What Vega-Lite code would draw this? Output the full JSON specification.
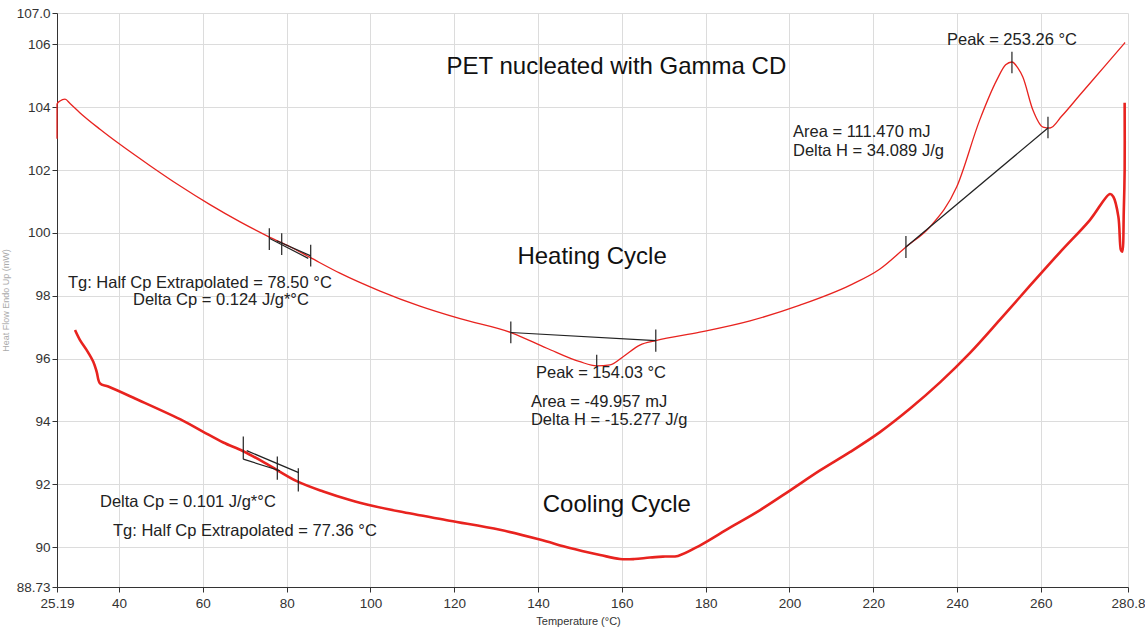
{
  "$schema": "https://vega.github.io/schema/vega-lite/v6.json",
  "width": 1071,
  "height": 574,
  "autosize": "none",
  "padding": {"left": 57, "top": 13, "right": 17, "bottom": 44},
  "background": "white",
  "config": {
    "font": "Liberation Sans",
    "view": {"stroke": null},
    "axis": {"labelFont": "Liberation Sans", "titleFont": "Liberation Sans", "labelColor": "#333", "titleColor": "#333", "labelFontSize": 13.5, "titleFontWeight": "normal", "gridColor": "#dcdcdc", "gridWidth": 1, "domainColor": "#333", "tickColor": "#333", "tickSize": 5}
  },
  "datasets": {
    "heat": [
      {"i": 0, "t": 25.19, "hf": 103.0}, {"i": 1, "t": 25.19, "hf": 104.1}, {"i": 2, "t": 25.9, "hf": 104.2},
      {"i": 3, "t": 27.1, "hf": 104.26}, {"i": 4, "t": 28.3, "hf": 104.12}, {"i": 5, "t": 30.7, "hf": 103.82},
      {"i": 6, "t": 35.45, "hf": 103.3}, {"i": 7, "t": 40.2, "hf": 102.82}, {"i": 8, "t": 47.4, "hf": 102.14},
      {"i": 9, "t": 54.5, "hf": 101.5}, {"i": 10, "t": 61.7, "hf": 100.9}, {"i": 11, "t": 68.9, "hf": 100.35},
      {"i": 12, "t": 76.0, "hf": 99.86}, {"i": 13, "t": 80.8, "hf": 99.56}, {"i": 14, "t": 85.6, "hf": 99.22},
      {"i": 15, "t": 92.7, "hf": 98.72}, {"i": 16, "t": 102.3, "hf": 98.15}, {"i": 17, "t": 111.8, "hf": 97.67},
      {"i": 18, "t": 121.4, "hf": 97.27}, {"i": 19, "t": 133.5, "hf": 96.83}, {"i": 20, "t": 142.1, "hf": 96.33},
      {"i": 21, "t": 150.0, "hf": 95.9}, {"i": 22, "t": 154.0, "hf": 95.77}, {"i": 23, "t": 157.2, "hf": 95.8},
      {"i": 24, "t": 160.3, "hf": 96.06}, {"i": 25, "t": 164.3, "hf": 96.43}, {"i": 26, "t": 168.1, "hf": 96.57},
      {"i": 27, "t": 178.6, "hf": 96.84}, {"i": 28, "t": 190.6, "hf": 97.2}, {"i": 29, "t": 202.5, "hf": 97.7},
      {"i": 30, "t": 214.4, "hf": 98.33}, {"i": 31, "t": 221.6, "hf": 98.85}, {"i": 32, "t": 227.8, "hf": 99.55},
      {"i": 33, "t": 233.5, "hf": 100.19}, {"i": 34, "t": 239.9, "hf": 101.46}, {"i": 35, "t": 245.4, "hf": 103.59},
      {"i": 36, "t": 249.5, "hf": 104.87}, {"i": 37, "t": 251.6, "hf": 105.35}, {"i": 38, "t": 253.1, "hf": 105.44},
      {"i": 39, "t": 254.5, "hf": 105.25}, {"i": 40, "t": 255.7, "hf": 104.96}, {"i": 41, "t": 258.1, "hf": 103.91},
      {"i": 42, "t": 260.5, "hf": 103.37}, {"i": 43, "t": 262.2, "hf": 103.34}, {"i": 44, "t": 265.0, "hf": 103.72},
      {"i": 45, "t": 269.3, "hf": 104.39}, {"i": 46, "t": 275.0, "hf": 105.27}, {"i": 47, "t": 280.1, "hf": 106.06}
    ],
    "cool": [
      {"i": 0, "t": 29.49, "hf": 96.91}, {"i": 1, "t": 30.68, "hf": 96.59}, {"i": 2, "t": 32.28, "hf": 96.27},
      {"i": 3, "t": 33.85, "hf": 95.9}, {"i": 4, "t": 34.66, "hf": 95.58}, {"i": 5, "t": 35.45, "hf": 95.21},
      {"i": 6, "t": 37.43, "hf": 95.11}, {"i": 7, "t": 43.81, "hf": 94.73}, {"i": 8, "t": 55.33, "hf": 94.02},
      {"i": 9, "t": 60.1, "hf": 93.67}, {"i": 10, "t": 64.88, "hf": 93.33}, {"i": 11, "t": 69.65, "hf": 93.05},
      {"i": 12, "t": 75.24, "hf": 92.65}, {"i": 13, "t": 82.4, "hf": 92.1}, {"i": 14, "t": 88.75, "hf": 91.77},
      {"i": 15, "t": 95.12, "hf": 91.5}, {"i": 16, "t": 100.68, "hf": 91.31}, {"i": 17, "t": 107.05, "hf": 91.13},
      {"i": 18, "t": 118.9, "hf": 90.84}, {"i": 19, "t": 130.9, "hf": 90.55}, {"i": 20, "t": 140.4, "hf": 90.24},
      {"i": 21, "t": 147.6, "hf": 89.97}, {"i": 22, "t": 154.8, "hf": 89.75}, {"i": 23, "t": 159.55, "hf": 89.62},
      {"i": 24, "t": 163.0, "hf": 89.62}, {"i": 25, "t": 166.7, "hf": 89.67}, {"i": 26, "t": 170.3, "hf": 89.7},
      {"i": 27, "t": 173.4, "hf": 89.72}, {"i": 28, "t": 178.6, "hf": 90.05}, {"i": 29, "t": 185.8, "hf": 90.62},
      {"i": 30, "t": 193.0, "hf": 91.18}, {"i": 31, "t": 200.1, "hf": 91.8}, {"i": 32, "t": 207.3, "hf": 92.44},
      {"i": 33, "t": 214.5, "hf": 93.03}, {"i": 34, "t": 221.6, "hf": 93.66}, {"i": 35, "t": 228.8, "hf": 94.41},
      {"i": 36, "t": 236.0, "hf": 95.25}, {"i": 37, "t": 243.1, "hf": 96.18}, {"i": 38, "t": 250.2, "hf": 97.23},
      {"i": 39, "t": 257.4, "hf": 98.32}, {"i": 40, "t": 264.6, "hf": 99.39}, {"i": 41, "t": 271.7, "hf": 100.41},
      {"i": 42, "t": 276.5, "hf": 101.24}, {"i": 43, "t": 277.3, "hf": 101.15}, {"i": 44, "t": 278.5, "hf": 100.52},
      {"i": 45, "t": 279.1, "hf": 99.46}, {"i": 46, "t": 279.4, "hf": 99.4}, {"i": 47, "t": 279.8, "hf": 100.73},
      {"i": 48, "t": 280.0, "hf": 102.0}, {"i": 49, "t": 280.0, "hf": 104.14}
    ],
    "segs": [
      {"seg": "crys", "t": 133.5, "hf": 96.83}, {"seg": "crys", "t": 168.1, "hf": 96.57},
      {"seg": "melt", "t": 227.8, "hf": 99.55}, {"seg": "melt", "t": 261.7, "hf": 103.34},
      {"seg": "tgh1", "t": 75.86, "hf": 99.83}, {"seg": "tgh1", "t": 85.16, "hf": 99.19},
      {"seg": "tgh2", "t": 77.6, "hf": 99.75}, {"seg": "tgh2", "t": 85.74, "hf": 99.27},
      {"seg": "tgc1", "t": 69.65, "hf": 92.8}, {"seg": "tgc1", "t": 78.4, "hf": 92.43},
      {"seg": "tgc2", "t": 70.46, "hf": 93.07}, {"seg": "tgc2", "t": 82.87, "hf": 92.37}
    ],
    "ticks": [
      {"t": 75.86, "y1": 100.15, "y2": 99.46}, {"t": 78.82, "y1": 99.99, "y2": 99.3}, {"t": 85.74, "y1": 99.62, "y2": 98.93},
      {"t": 133.5, "y1": 97.18, "y2": 96.49}, {"t": 168.1, "y1": 96.93, "y2": 96.22}, {"t": 154.0, "y1": 96.12, "y2": 95.74},
      {"t": 227.8, "y1": 99.9, "y2": 99.2}, {"t": 261.7, "y1": 103.7, "y2": 103.01}, {"t": 253.1, "y1": 105.77, "y2": 105.08},
      {"t": 69.65, "y1": 93.52, "y2": 92.8}, {"t": 77.77, "y1": 92.88, "y2": 92.14}, {"t": 82.78, "y1": 92.51, "y2": 91.77}
    ],
    "notes": [
      {"t": 200.85, "hf": 103.21, "text": "Area = 111.470 mJ"},
      {"t": 200.85, "hf": 102.61, "text": "Delta H = 34.089 J/g"},
      {"t": 27.8, "hf": 98.41, "text": "Tg: Half Cp Extrapolated = 78.50 °C"},
      {"t": 43.33, "hf": 97.87, "text": "Delta Cp = 0.124 J/g*°C"},
      {"t": 139.5, "hf": 95.54, "text": "Peak = 154.03 °C"},
      {"t": 138.3, "hf": 94.62, "text": "Area = -49.957 mJ"},
      {"t": 138.3, "hf": 94.05, "text": "Delta H = -15.277 J/g"},
      {"t": 35.45, "hf": 91.44, "text": "Delta Cp = 0.101 J/g*°C"},
      {"t": 38.55, "hf": 90.51, "text": "Tg: Half Cp Extrapolated = 77.36 °C"}
    ],
    "peak2": [
      {"t": 253.1, "hf": 106.14, "text": "Peak = 253.26 °C"}
    ],
    "heads": [
      {"t": 158.7, "hf": 105.28, "text": "PET nucleated with Gamma CD"},
      {"t": 152.9, "hf": 99.23, "text": "Heating Cycle"},
      {"t": 158.8, "hf": 91.34, "text": "Cooling Cycle"}
    ]
  },
  "encoding": {
    "x": {
      "field": "t", "type": "quantitative",
      "scale": {"domain": [25.19, 280.8], "nice": false, "zero": false},
      "axis": {"values": [25.19, 40, 60, 80, 100, 120, 140, 160, 180, 200, 220, 240, 260, 280.8], "labelExpr": "'' + datum.value", "labelPadding": 4, "title": "Temperature (°C)", "titleFontSize": 11, "titleX": 521, "titlePadding": 6, "grid": true, "labelFlush": false}
    },
    "y": {
      "field": "hf", "type": "quantitative",
      "scale": {"domain": [88.73, 107.0], "nice": false, "zero": false},
      "axis": {"values": [88.73, 90, 92, 94, 96, 98, 100, 102, 104, 106, 107], "labelExpr": "datum.value == 107 ? '107.0' : '' + datum.value", "title": "Heat Flow Endo Up (mW)", "titleFontSize": 9, "titleColor": "#aaa", "titleX": -47, "grid": true, "labelFlush": false}
    }
  },
  "layer": [
    {
      "data": {"name": "heat"},
      "mark": {"type": "line", "color": "#e8231f", "strokeWidth": 1.3, "interpolate": "monotone"},
      "encoding": {"order": {"field": "i", "type": "quantitative"}}
    },
    {
      "data": {"name": "cool"},
      "mark": {"type": "line", "color": "#e8231f", "strokeWidth": 2.6, "interpolate": "catmull-rom"},
      "encoding": {"order": {"field": "i", "type": "quantitative"}}
    },
    {
      "data": {"name": "segs"},
      "mark": {"type": "line", "color": "#222", "strokeWidth": 1.2},
      "encoding": {"detail": {"field": "seg"}}
    },
    {
      "data": {"name": "ticks"},
      "mark": {"type": "rule", "color": "#222", "strokeWidth": 1.2},
      "encoding": {"y": {"field": "y1", "type": "quantitative"}, "y2": {"field": "y2"}}
    },
    {
      "data": {"name": "notes"},
      "mark": {"type": "text", "align": "left", "baseline": "middle", "fontSize": 16.5, "color": "#222"},
      "encoding": {"text": {"field": "text"}}
    },
    {
      "data": {"name": "peak2"},
      "mark": {"type": "text", "align": "center", "baseline": "middle", "fontSize": 16.5, "color": "#222"},
      "encoding": {"text": {"field": "text"}}
    },
    {
      "data": {"name": "heads"},
      "mark": {"type": "text", "align": "center", "baseline": "middle", "fontSize": 24, "color": "#111"},
      "encoding": {"text": {"field": "text"}}
    }
  ]
}
